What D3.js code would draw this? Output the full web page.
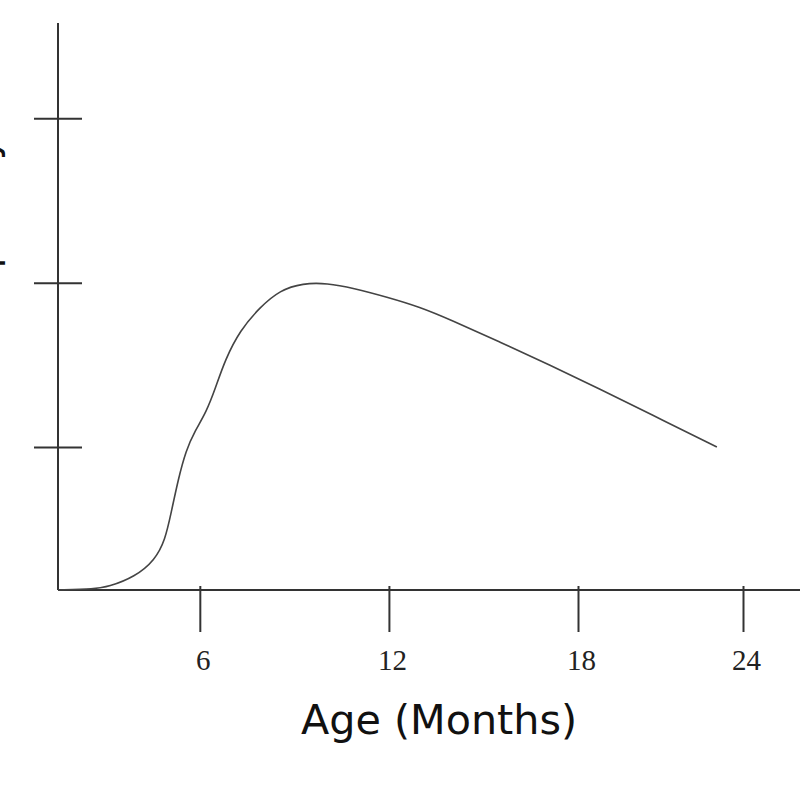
<!DOCTYPE html>
<html>
<head>
<meta charset="utf-8">
<script src="https://cdn.jsdelivr.net/npm/d3@7"></script>
<style>
  html, body { margin: 0; padding: 0; background: #fff; }
  svg { display: block; }
</style>
</head>
<body>
<svg id="chart" width="800" height="800"></svg>
<script>
// ---- data ----
const ageMonths = [1.5, 2.67, 3.09, 3.94, 4.58, 4.90, 5.09, 5.31, 5.56, 5.85, 6.2, 6.5, 6.8, 7.28, 7.91, 8.54, 9.27, 10.04, 10.86, 11.94, 12.99, 13.94, 15.53, 17.11, 18.8, 20.62, 23.05];
const level     = [0.13, 0.137, 0.149, 0.21, 0.313, 0.435, 0.599, 0.80, 0.98, 1.10, 1.21, 1.36, 1.53, 1.711, 1.851, 1.954, 1.997, 1.997, 1.967, 1.912, 1.851, 1.775, 1.638, 1.499, 1.353, 1.201, 1.0];
const xTickValues = [6, 12, 18, 24];
const xTickLabels = ["6", "12", "18", "24"];
const yTickValues = [1, 2, 3];
const xTitle = "Age (Months)";
const yTitle = "Frequency";

// ---- layout ----
const svg = d3.select("#chart");
const x = d3.scaleLinear().domain([1.5, 18, 24]).range([58, 578, 743]);
const xEnd = 26.08;
const y = d3.scaleLinear().domain([0.13, 3.58]).range([590, 23]);

const axisColor = "#333";

// X axis
const gx = svg.append("g").attr("transform", `translate(0,${y(0.13)})`);
gx.append("line")
  .attr("x1", x(1.5)).attr("x2", x(xEnd))
  .attr("stroke", axisColor).attr("stroke-width", 2);
const xAxis = d3.axisBottom(x).tickValues(xTickValues).tickSize(0).tickFormat((d, i) => xTickLabels[i]);
const xa = gx.append("g").call(xAxis);
xa.select(".domain").remove();
xa.selectAll(".tick line").remove();
xa.selectAll(".tick").append("line")
  .attr("y1", -4).attr("y2", 42)
  .attr("stroke", axisColor).attr("stroke-width", 2);
xa.selectAll(".tick text")
  .attr("dy", 0).attr("y", 80).attr("x", 3)
  .attr("fill", "#222")
  .style("font-family", "'Liberation Serif', 'DejaVu Serif', serif")
  .style("font-size", "29px");

// Y axis
const gy = svg.append("g").attr("transform", `translate(${x(1.5)},0)`);
gy.append("line")
  .attr("y1", y(3.58)).attr("y2", y(0.13))
  .attr("stroke", axisColor).attr("stroke-width", 2);
const yAxis = d3.axisLeft(y).tickValues(yTickValues).tickSize(0).tickFormat("");
const ya = gy.append("g").call(yAxis);
ya.select(".domain").remove();
ya.selectAll(".tick line").remove();
ya.selectAll(".tick").append("line")
  .attr("x1", -24).attr("x2", 24)
  .attr("stroke", axisColor).attr("stroke-width", 2);

// Curve
const line = d3.line()
  .x((d, i) => x(ageMonths[i]))
  .y((d, i) => y(level[i]))
  .curve(d3.curveBasis);
svg.append("path")
  .datum(ageMonths)
  .attr("d", line)
  .attr("fill", "none")
  .attr("stroke", "#444")
  .attr("stroke-width", 1.6);

// Titles
svg.append("text")
  .attr("x", 439).attr("y", 734)
  .attr("text-anchor", "middle")
  .attr("textLength", 276)
  .attr("lengthAdjust", "spacingAndGlyphs")
  .attr("fill", "#111")
  .style("font-family", "'DejaVu Sans', sans-serif")
  .style("font-size", "40px")
  .text(xTitle);

svg.append("text")
  .attr("transform", `translate(-4,240) rotate(-90)`)
  .attr("text-anchor", "middle")
  .attr("fill", "#111")
  .style("font-family", "'DejaVu Sans', sans-serif")
  .style("font-size", "40px")
  .text(yTitle);
</script>
</body>
</html>
